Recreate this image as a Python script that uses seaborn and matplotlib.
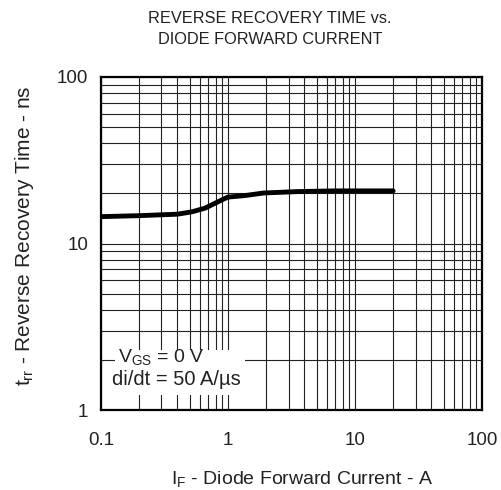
import numpy as np
import pandas as pd
import matplotlib
matplotlib.use("Agg")
import matplotlib.pyplot as plt
import matplotlib.ticker as mticker
from matplotlib.patches import Rectangle
import seaborn as sns

# curve
i_f = [0.1, 0.2, 0.4, 0.52, 0.66, 0.9, 1.0, 1.36, 1.9, 3.5, 7.0, 20.0]
t_rr = [14.5, 14.7, 15.0, 15.5, 16.3, 18.3, 19.0, 19.4, 20.1, 20.5, 20.7, 20.7]

x_ticks = [0.1, 1, 10, 100]
y_ticks = [1, 10, 100]

sns.set_theme(style="white")
plt.rcParams['font.family'] = ['Liberation Sans', 'DejaVu Sans']
plt.rcParams['mathtext.fontset'] = 'custom'
plt.rcParams['mathtext.rm'] = 'Liberation Sans'

df = pd.DataFrame({"IF": i_f, "trr": t_rr})

fig = plt.figure(figsize=(5.02, 4.9), dpi=100)
ax = fig.add_axes([0.201, 0.163, 0.759, 0.680])

sns.lineplot(data=df, x="IF", y="trr", ax=ax, color="black", linewidth=3.5, zorder=5)

ax.set_xscale("log")
ax.set_yscale("log")
ax.set_xlim(0.1, 100)
ax.set_ylim(1, 100)

ax.xaxis.set_major_locator(mticker.FixedLocator(x_ticks))
ax.yaxis.set_major_locator(mticker.FixedLocator(y_ticks))
ax.xaxis.set_minor_locator(mticker.LogLocator(base=10, subs=np.arange(2, 10)))
ax.yaxis.set_minor_locator(mticker.LogLocator(base=10, subs=np.arange(2, 10)))
ax.xaxis.set_major_formatter(mticker.FixedFormatter(["0.1", "1", "10", "100"]))
ax.yaxis.set_major_formatter(mticker.FixedFormatter(["1", "10", "100"]))
ax.xaxis.set_minor_formatter(mticker.NullFormatter())
ax.yaxis.set_minor_formatter(mticker.NullFormatter())

ax.grid(True, which="both", color="#222222", linewidth=0.8)
ax.tick_params(which="both", length=0, labelsize=13.5, colors="#222222")
ax.tick_params(axis="x", pad=16)
ax.tick_params(axis="y", pad=9)

for s in ax.spines.values():
    s.set_visible(True)
    s.set_color("black")
    s.set_linewidth(1.6)

ax.set_xlabel(r"I$\mathregular{_F}$ - Diode Forward Current - A", fontsize=14, color="#222222")
ax.set_ylabel(r"t$\mathregular{_{rr}}$ - Reverse Recovery Time - ns", fontsize=15, color="#222222")
ax.xaxis.set_label_coords(0.528, -0.177)
ax.yaxis.set_label_coords(-0.17, 0.524)

# white box for the test conditions
ax.add_patch(Rectangle((0.037, 0.045), 0.34, 0.135, transform=ax.transAxes,
                       facecolor="white", edgecolor="none", zorder=3))
ax.text(0.045, 0.159, r"V$\mathregular{_{GS}}$ = 0 V", transform=ax.transAxes,
        fontsize=14, color="#222222", va="center", zorder=4)
ax.text(0.03, 0.092, "di/dt = 50 A/µs", transform=ax.transAxes,
        fontsize=14.5, color="#222222", va="center", zorder=4)

fig.text(0.538, 0.978, "REVERSE RECOVERY TIME vs.\nDIODE FORWARD CURRENT",
         ha="center", va="top", fontsize=11.8, color="#222222", linespacing=1.55)

fig.savefig("out.png", dpi=100)
